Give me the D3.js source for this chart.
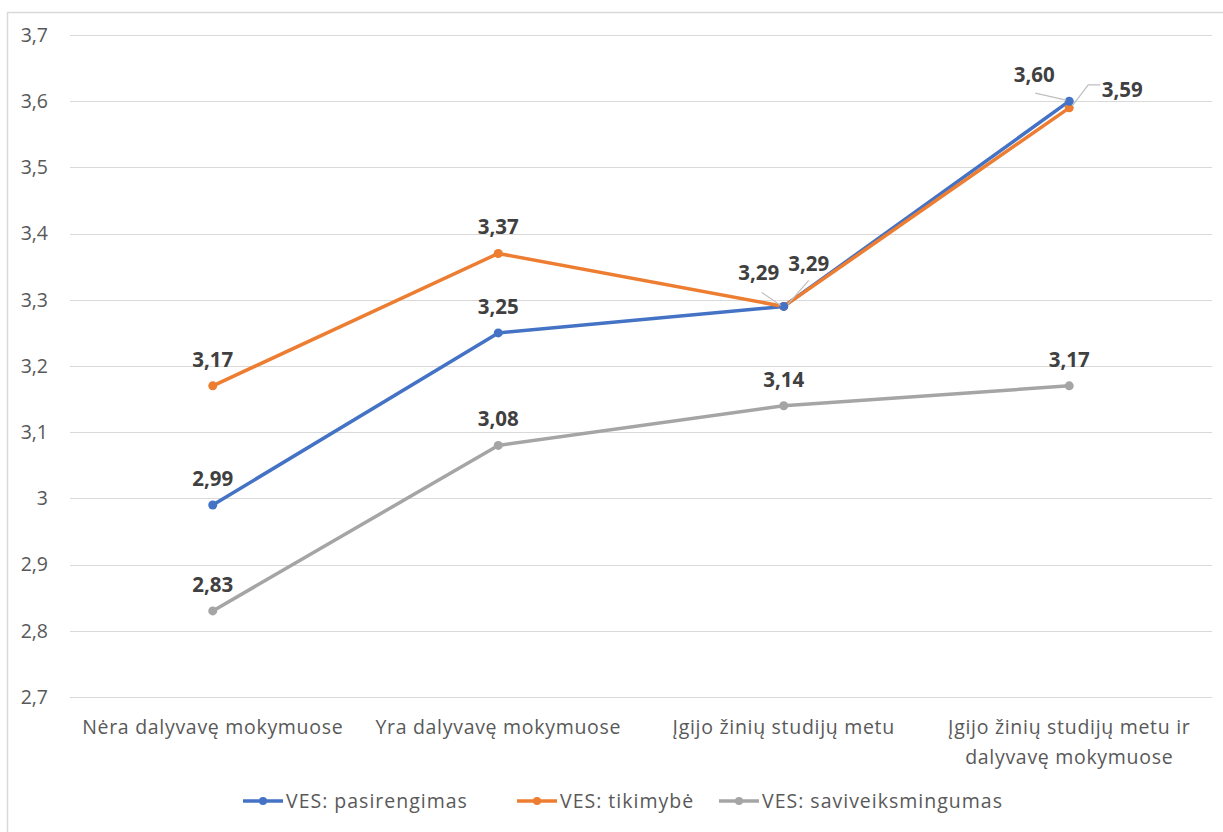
<!DOCTYPE html>
<html>
<head>
<meta charset="utf-8">
<script src="https://cdn.jsdelivr.net/npm/d3@7"></script>
<style>
  body { margin: 0; background: #fff; }
  text { font-family: "Open Sans", Lato, sans-serif; }
</style>
</head>
<body>
<div id="chart"></div>
<script>
// Chart data
var categories = ["Nėra dalyvavę mokymuose", "Yra dalyvavę mokymuose", "Įgijo žinių studijų metu", "Įgijo žinių studijų metu ir dalyvavę mokymuose"];
var seriesNames = ["VES: pasirengimas", "VES: tikimybė", "VES: saviveiksmingumas"];
var pasirengimas = [2.99, 3.25, 3.29, 3.60];
var tikimybe = [3.17, 3.37, 3.29, 3.59];
var saviveiksmingumas = [2.83, 3.08, 3.14, 3.17];
var yTicks = [2.7, 2.8, 2.9, 3.0, 3.1, 3.2, 3.3, 3.4, 3.5, 3.6, 3.7];
var colors = ["#4472C4", "#ED7D31", "#A5A5A5"];

var series = [pasirengimas, tikimybe, saviveiksmingumas].map(function(vals, i) {
	return { name: seriesNames[i], color: colors[i], values: vals };
});

var svgWidth = 1223;
var svgHeight = 832;

var svg = d3.select("#chart")
	.append("svg")
	.attr("width", svgWidth)
	.attr("height", svgHeight);

// outer frame of the chart
svg.append("rect")
	.attr("x", 7.5)
	.attr("y", 12.5)
	.attr("width", 1240)
	.attr("height", 840)
	.attr("fill", "none")
	.attr("stroke", "#d9d9d9")
	.attr("stroke-width", 1.5);

var plotLeft = 70, plotRight = 1212;

var x = d3.scaleBand()
	.domain(categories)
	.range([plotLeft, plotRight]);

var y = d3.scaleLinear()
	.domain([2.7, 3.7])
	.range([697, 35]);

var fmt = function(v) { return d3.format(".2f")(v).replace(".", ","); };
var tickFmt = function(v) { return (Math.round(v * 10) / 10).toString().replace(".", ","); };

// gridlines
svg.append("g")
	.selectAll("line")
	.data(yTicks)
	.enter()
	.append("line")
	.attr("x1", plotLeft)
	.attr("x2", plotRight)
	.attr("y1", d => Math.round(y(d)) + 0.5)
	.attr("y2", d => Math.round(y(d)) + 0.5)
	.attr("stroke", "#d9d9d9")
	.attr("stroke-width", 1.2);

// y axis labels
svg.append("g")
	.selectAll("text")
	.data(yTicks)
	.enter()
	.append("text")
	.attr("x", 48)
	.attr("y", d => y(d))
	.attr("dy", "0.35em")
	.attr("text-anchor", "end")
	.attr("fill", "#595959")
	.style("font-size", "19.5px")
	.text(tickFmt);

// x axis labels
var xlab = svg.append("g")
	.selectAll("text")
	.data(categories)
	.enter()
	.append("text")
	.attr("x", d => x(d) + x.bandwidth() / 2)
	.attr("y", 734)
	.attr("text-anchor", "middle")
	.attr("fill", "#595959")
	.style("font-size", "19.5px")
	.style("letter-spacing", "0.7px");

xlab.each(function(d, i) {
	var t = d3.select(this);
	if (i === 3) {
		t.append("tspan").attr("x", x(d) + x.bandwidth() / 2).text("Įgijo žinių studijų metu ir");
		t.append("tspan").attr("x", x(d) + x.bandwidth() / 2).attr("dy", 30).text("dalyvavę mokymuose");
	} else {
		t.text(d);
	}
});

// lines
var line = d3.line()
	.x((d, i) => x(categories[i]) + x.bandwidth() / 2)
	.y(d => y(d));

svg.append("g")
	.selectAll("path")
	.data(series)
	.enter()
	.append("path")
	.attr("d", d => line(d.values))
	.attr("fill", "none")
	.attr("stroke", d => d.color)
	.attr("stroke-width", 3.5)
	.attr("stroke-linejoin", "round");

// markers (drawn last series first so blue sits on top where they overlap at 3,60)
var markerGroup = svg.append("g");
[2, 1, 0].forEach(function(si) {
	markerGroup.selectAll(".m" + si)
		.data(series[si].values)
		.enter()
		.append("circle")
		.attr("cx", (d, i) => x(categories[i]) + x.bandwidth() / 2)
		.attr("cy", d => y(d))
		.attr("r", 4.5)
		.attr("fill", series[si].color);
});

// data labels: offsets from the point (default is centered above)
var labelOffsets = [
	[[0, -19], [0, -19], [-25, -26], [-35, -19]],
	[[0, -19], [0, -19], [25, -35], [53, -11]],
	[[0, -19], [0, -19], [0, -19], [0, -19]]
];

// leader lines for the crowded labels
var leaders = [
	{ s: 1, i: 2, pts: [[-22, -14], [-3, -1]] },
	{ s: 0, i: 2, pts: [[25, -26], [4, -2]] },
	{ s: 0, i: 3, pts: [[-34, -8], [-3, -1]] },
	{ s: 1, i: 3, pts: [[3, -2], [19, -23], [31, -23]] }
];

svg.append("g")
	.selectAll("polyline")
	.data(leaders)
	.enter()
	.append("polyline")
	.attr("points", function(d) {
		var cx = x(categories[d.i]) + x.bandwidth() / 2;
		var cy = y(series[d.s].values[d.i]);
		return d.pts.map(p => (cx + p[0]) + "," + (cy + p[1])).join(" ");
	})
	.attr("fill", "none")
	.attr("stroke", "#bfbfbf")
	.attr("stroke-width", 1.2);

series.forEach(function(s, si) {
	svg.append("g")
		.selectAll("text")
		.data(s.values)
		.enter()
		.append("text")
		.attr("x", (d, i) => x(categories[i]) + x.bandwidth() / 2 + labelOffsets[si][i][0])
		.attr("y", (d, i) => y(d) + labelOffsets[si][i][1])
		.attr("text-anchor", "middle")
		.attr("fill", "#404040")
		.style("font-size", "20.5px")
		.style("font-weight", "bold")
		.text(fmt);
});

// legend
var legendX = [243, 517, 719];
var legend = svg.append("g")
	.selectAll("g")
	.data(series)
	.enter()
	.append("g")
	.attr("transform", (d, i) => `translate(${legendX[i]}, 801)`);

legend.append("line")
	.attr("x1", 0)
	.attr("x2", 40)
	.attr("stroke", d => d.color)
	.attr("stroke-width", 3.5);

legend.append("circle")
	.attr("cx", 20)
	.attr("r", 4)
	.attr("fill", d => d.color);

legend.append("text")
	.attr("x", 43)
	.attr("dy", "0.35em")
	.attr("fill", "#595959")
	.style("font-size", "19.5px")
	.style("letter-spacing", "1px")
	.text(d => d.name);
</script>
</body>
</html>
